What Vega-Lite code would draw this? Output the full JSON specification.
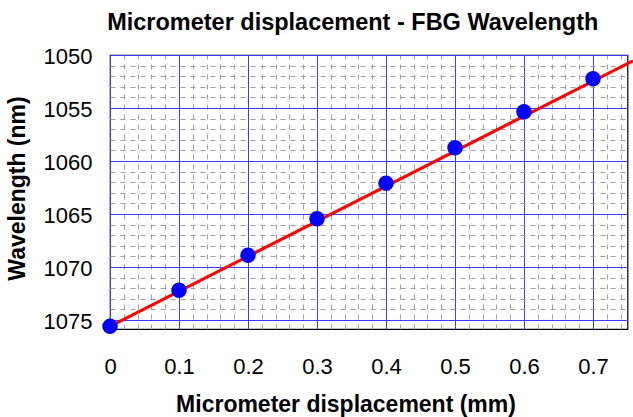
{
  "$schema": "https://vega.github.io/schema/vega-lite/v6.json",
  "autosize": {"type": "none"},
  "padding": {"left": 110, "top": 55, "right": 5, "bottom": 88},
  "width": 517.5,
  "height": 274.01,
  "background": "white",
  "config": {
    "font": "Liberation Sans",
    "view": {"stroke": "#000000", "strokeWidth": 1.2},
    "axis": {"labelColor": "#000000", "titleColor": "#000000", "labelFont": "Liberation Sans", "titleFont": "Liberation Sans"}
  },
  "title": {
    "text": "Micrometer displacement - FBG Wavelength",
    "fontSize": 23.5,
    "fontWeight": "bold",
    "font": "Liberation Sans",
    "color": "#000000",
    "anchor": "middle",
    "frame": "group",
    "dx": -16,
    "offset": 11
  },
  "datasets": {
    "measured": [
      {"disp": 0.0, "wl": 1075.6},
      {"disp": 0.1, "wl": 1072.2},
      {"disp": 0.2, "wl": 1068.9},
      {"disp": 0.3, "wl": 1065.45},
      {"disp": 0.4, "wl": 1062.1},
      {"disp": 0.5, "wl": 1058.75},
      {"disp": 0.6, "wl": 1055.35},
      {"disp": 0.7, "wl": 1052.25}
    ],
    "fit": [
      {"disp": 0.0, "wl": 1075.6},
      {"disp": 0.758, "wl": 1050.55}
    ]
  },
  "layer": [
    {
      "data": {"name": "measured"},
      "mark": {"type": "point", "opacity": 0},
      "encoding": {
        "x": {
          "field": "disp", "type": "quantitative",
          "scale": {"domain": [0, 0.75], "nice": false, "zero": false},
          "axis": {
            "orient": "bottom",
            "values": [0.02,0.04,0.06,0.08,0.12,0.14,0.16,0.18,0.22,0.24,0.26,0.28,0.32,0.34,0.36,0.38,0.42,0.44,0.46,0.48,0.52,0.54,0.56,0.58,0.62,0.64,0.66,0.68,0.72,0.74],
            "grid": true, "gridColor": "#a0a0a0", "gridDash": [5, 5], "gridWidth": 1,
            "labels": false, "ticks": false, "domain": false, "title": null
          }
        },
        "y": {
          "field": "wl", "type": "quantitative",
          "scale": {"domain": [1050, 1075.85], "nice": false, "zero": false, "reverse": true},
          "axis": {
            "orient": "left",
            "values": [1051,1052,1053,1054,1056,1057,1058,1059,1061,1062,1063,1064,1066,1067,1068,1069,1071,1072,1073,1074],
            "grid": true, "gridColor": "#a0a0a0", "gridDash": [5, 5], "gridWidth": 1,
            "labels": false, "ticks": false, "domain": false, "title": null
          }
        }
      }
    },
    {
      "data": {"name": "fit"},
      "mark": {"type": "line", "color": "#ff0000", "strokeWidth": 3, "clip": false},
      "encoding": {
        "x": {
          "field": "disp", "type": "quantitative",
          "axis": {
            "orient": "bottom",
            "values": [0, 0.1, 0.2, 0.3, 0.4, 0.5, 0.6, 0.7],
            "format": "~g",
            "grid": true, "gridColor": "#3a3aff", "gridOpacity": 1, "gridWidth": 1,
            "ticks": false, "tickSize": 0, "domain": false,
            "labelFontSize": 22, "labelPadding": 27, "labelFlush": false,
            "title": "Micrometer displacement (mm)",
            "titleFontSize": 23, "titleFontWeight": "bold",
            "titleBaseline": "alphabetic", "titleAnchor": "start", "titleAlign": "center",
            "titleX": 235.5, "titleY": 82.5
          }
        },
        "y": {
          "field": "wl", "type": "quantitative",
          "axis": {
            "orient": "left",
            "values": [1050, 1055, 1060, 1065, 1070, 1075],
            "format": "d",
            "grid": true, "gridColor": "#3a3aff", "gridOpacity": 1, "gridWidth": 1,
            "ticks": false, "tickSize": 0, "domain": false,
            "labelFontSize": 22, "labelPadding": 18, "labelOffset": 2, "labelFlush": false,
            "title": "Wavelength (nm)",
            "titleFontSize": 23, "titleFontWeight": "bold",
            "titleBaseline": "alphabetic", "titleAlign": "center", "titleAngle": -90,
            "titleX": -86, "titleY": 133
          }
        }
      }
    },
    {
      "data": {"name": "measured"},
      "mark": {"type": "circle", "color": "#0000ff", "opacity": 1, "size": 240},
      "encoding": {
        "x": {"field": "disp", "type": "quantitative", "axis": null},
        "y": {"field": "wl", "type": "quantitative", "axis": null}
      }
    }
  ],
  "resolve": {
    "scale": {"x": "shared", "y": "shared"},
    "axis": {"x": "independent", "y": "independent"}
  }
}
